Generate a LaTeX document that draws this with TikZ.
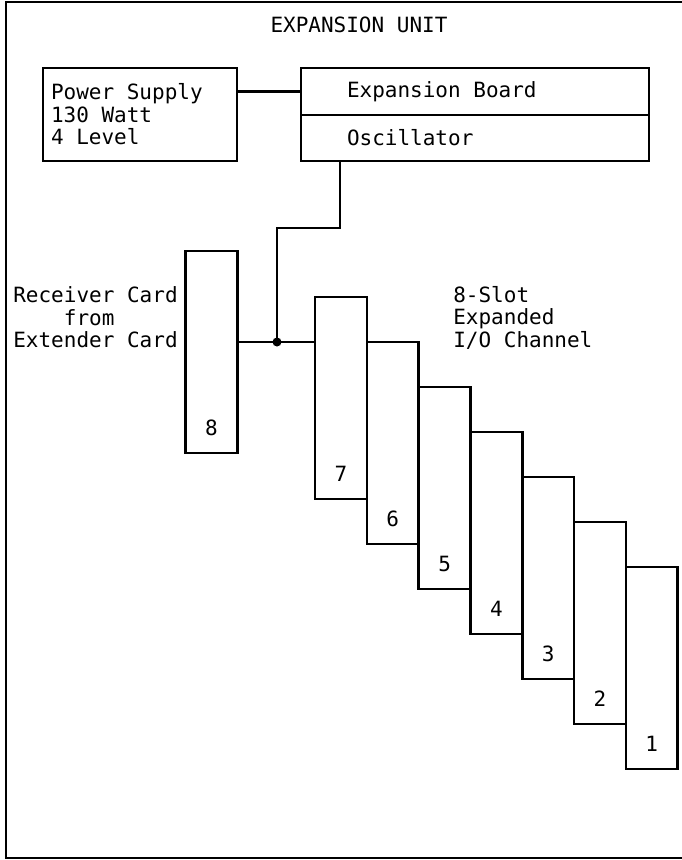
\documentclass[tikz,border=0pt]{standalone}
\usepackage{fontspec}
\newfontfamily\ibmfont[WordSpace={1,0,0}]{DejaVu Sans Mono}
\usetikzlibrary{positioning}

\begin{document}
\begin{tikzpicture}[
  x=1pt,y=-1pt,
  line width=2.6pt,
  font=\ibmfont\fontsize{21}{22.5}\selectfont,
  box/.style={draw,rectangle,inner sep=0pt,outer sep=0pt},
  slot/.style={box,minimum width=51.8pt,minimum height=202pt},
  txt/.style={inner sep=0pt},
  num/.style={txt,anchor=south,yshift=16.3pt}
]
  \useasboundingbox (0,0) rectangle (682,860);
  % outer frame
  \draw (682,2) -- (6,2) -- (6,858) -- (682,858);
  \node[txt] (title) at (359,25) {EXPANSION UNIT};

  \node[box,minimum width=194pt,minimum height=93pt,text width=178pt,inner xsep=8pt,align=left] (ps) at (140,114.5) {\spaceskip=0pt Power Supply\\130 Watt\\4 Level};
  \node[box,minimum width=348pt,minimum height=47pt,text width=256pt,inner xsep=46pt,align=left] (eb) at (475,91.5) {\spaceskip=0pt Expansion Board};
  \node[box,minimum width=348pt,minimum height=46pt,text width=256pt,inner xsep=46pt,align=left,below=0pt of eb] (osc) {Oscillator};

  % slots
  \node[slot,label={[num]south:8}] (s8) at (211.5,352) {};
  \foreach \k in {7,...,1}
    \node[slot,label={[num]south:\k}] (s\k) at ({341+51.8*(7-\k)},{398+45*(7-\k)}) {};

  \node[txt,align=left] (recv) at (95.5,317.5) {Receiver Card\\\phantom{Rece}from\\Extender Card};
  \node[txt,anchor=west,align=left] (chan) at (452,317.5) {8-Slot\\Expanded\\I/O Channel};

  % wiring
  \coordinate (jn) at (277,342);
  \coordinate (bend) at (277,228);
  \draw (ps.east |- eb.west) -- (eb.west);
  \draw (s8.east |- jn) -- (s7.west |- jn);
  \draw (jn) -- (bend) -| ([xshift=39pt]osc.south west);
  \fill (jn) circle (4.5pt);
\end{tikzpicture}
\end{document}
